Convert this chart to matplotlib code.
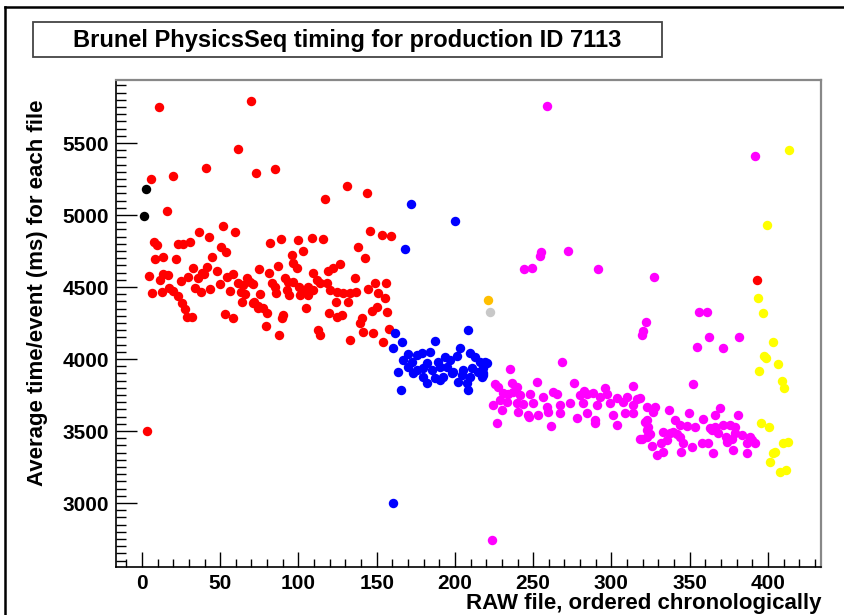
import matplotlib.pyplot as plt
from matplotlib.lines import Line2D
from matplotlib.patches import Rectangle
from matplotlib.ticker import MultipleLocator

plt.rcParams['font.family'] = ['Liberation Sans', 'DejaVu Sans']
plt.rcParams['font.weight'] = 'bold'

title = "Brunel PhysicsSeq timing for production ID 7113"
xlabel = "RAW file, ordered chronologically"
ylabel = "Average time/event (ms) for each file"

# values, one list pair per colour group
red_x = [10.9, 69.6, 61.3, 40.9, 72.8, 19.8, 5.8, 16.0, 36.4, 42.8,
         51.8, 59.4, 7.7, 9.6, 23.0, 26.2, 30.7, 50.5, 53.7, 8.3,
         13.4, 21.7, 44.7, 4.5, 13.4, 16.6, 11.5, 32.6, 41.5, 38.3,
         47.9, 24.9, 29.4, 35.8, 39.6, 54.3, 58.1, 49.8, 43.5, 33.9,
         37.7, 6.4, 12.8, 17.3, 19.8, 23.0, 25.6, 27.5, 28.8, 31.9,
         56.2, 61.3, 67.1, 64.5, 63.3, 65.8, 63.9, 70.9, 74.1, 53.0,
         58.1, 85.0, 131.0, 143.8, 116.9, 81.8, 88.8, 99.7, 108.6, 115.7,
         145.7, 153.4, 159.1, 95.8, 102.9, 138.0, 142.5, 86.9, 74.8, 96.5,
         99.0, 81.2, 69.0, 70.9, 83.1, 85.0, 91.4, 93.3, 96.5, 109.3,
         111.8, 113.7, 118.2, 118.8, 122.0, 126.5, 100.3, 102.9, 106.1, 109.3,
         92.7, 93.9, 75.4, 85.6, 101.0, 106.1, 120.1, 124.6, 128.4, 132.9,
         136.7, 136.1, 144.4, 148.9, 155.9, 150.8, 155.3, 71.6, 74.1, 77.3,
         79.9, 124.0, 131.6, 104.8, 90.1, 89.5, 119.5, 124.6, 127.8, 140.6,
         139.3, 147.0, 150.2, 156.5, 79.2, 112.5, 113.7, 87.5, 141.2, 147.6,
         132.9, 154.0, 157.8, 3.2, 393.0]
red_y = [5750, 5792, 5458, 5326, 5292, 5271, 5250, 5028, 4882, 4847,
         4924, 4882, 4813, 4792, 4799, 4799, 4813, 4778, 4743, 4694,
         4708, 4694, 4708, 4576, 4590, 4583, 4549, 4632, 4639, 4597,
         4611, 4542, 4569, 4563, 4590, 4569, 4590, 4521, 4486, 4493,
         4465, 4458, 4465, 4493, 4472, 4438, 4389, 4347, 4292, 4292,
         4472, 4528, 4563, 4514, 4465, 4451, 4396, 4389, 4354, 4313,
         4285, 5319, 5201, 5153, 5111, 4806, 4833, 4826, 4840, 4833,
         4889, 4861, 4854, 4722, 4750, 4778, 4701, 4646, 4625, 4667,
         4632, 4597, 4535, 4521, 4528, 4500, 4563, 4535, 4535, 4597,
         4549, 4528, 4528, 4611, 4632, 4660, 4500, 4479, 4500, 4479,
         4479, 4444, 4451, 4458, 4444, 4444, 4479, 4465, 4458, 4458,
         4465, 4563, 4486, 4528, 4528, 4458, 4424, 4396, 4368, 4354,
         4319, 4396, 4396, 4354, 4306, 4285, 4319, 4292, 4306, 4285,
         4250, 4333, 4361, 4326, 4229, 4201, 4167, 4167, 4188, 4181,
         4132, 4118, 4208, 3500, 4549]

blue_x = [171.9, 200.0, 168.1, 208.3, 187.2, 161.7, 166.1, 160.4, 170.0, 175.7,
          178.9, 184.0, 193.6, 203.2, 209.6, 166.8, 172.5, 182.1, 189.1, 196.8,
          201.3, 212.8, 216.0, 220.4, 170.0, 175.7, 179.6, 185.3, 190.4, 194.9,
          198.7, 205.1, 210.9, 214.7, 217.9, 163.6, 173.2, 179.6, 187.2, 192.3,
          198.1, 204.5, 209.6, 217.3, 182.1, 190.4, 201.9, 207.7, 208.3, 165.5,
          219.2, 217.9, 217.9, 160.4]
blue_y = [5076, 4958, 4764, 4201, 4125, 4181, 4118, 4076, 4035, 4028,
          4042, 4049, 4014, 4076, 4042, 3993, 3979, 3972, 3979, 3993,
          4021, 4014, 3979, 3972, 3944, 3924, 3938, 3924, 3944, 3944,
          3910, 3924, 3938, 3910, 3903, 3910, 3903, 3875, 3868, 3875,
          3903, 3889, 3875, 3875, 3833, 3854, 3840, 3833, 3785, 3785,
          3979, 3938, 3889, 3000]

mag_x = [258.8, 255.0, 254.3, 272.2, 244.1, 249.2, 291.4, 327.2, 391.7, 322.0,
         320.1, 319.5, 268.4, 235.1, 355.9, 361.0, 362.3, 381.5, 354.6, 371.2,
         352.1, 223.6,
         225.6, 227.5, 236.4, 239.6, 252.4, 276.0, 282.4, 295.8, 313.7,
         230.7, 233.9, 237.1, 241.5, 247.9, 256.2, 262.6, 265.2, 279.9, 284.3,
         288.2, 292.7, 297.1, 303.5, 309.9, 316.3,
         228.8, 233.2, 239.6, 243.5, 249.8, 258.8, 267.1, 273.5, 281.8, 290.7,
         299.0, 307.3, 313.7, 322.7,
         224.3, 230.0, 240.3, 246.6, 253.0, 259.4, 267.1, 278.0, 284.3, 289.5,
         301.0, 308.6, 313.7, 322.7,
         226.8, 261.3, 247.3, 289.5, 303.5, 318.2, 322.7,
         318.2, 327.8, 326.5, 336.7, 349.5, 358.5, 366.1, 369.3, 380.8,
         321.4, 323.3, 324.6, 340.6, 343.8, 348.2, 353.4, 363.0, 366.1, 371.2,
         375.7, 378.9,
         332.9, 337.4, 339.3, 341.9, 343.8, 364.2, 368.1, 373.2, 378.9, 383.4,
         388.5, 389.8,
         319.5, 322.7, 325.9, 331.6, 335.5, 345.7, 351.4, 357.8, 361.7, 373.8,
         377.0, 386.6, 391.7,
         329.1, 332.9, 344.4, 364.9, 377.6, 386.6]
mag_y = [5757, 4743, 4715, 4750, 4625, 4632, 4625, 4569, 5410, 4257,
         4194, 4167, 3979, 3931, 4326, 4326, 4153, 4153, 4083, 4076,
         3826, 2743,
         3826, 3806, 3833, 3806, 3840, 3833, 3778, 3799, 3813,
         3764, 3757, 3771, 3750, 3757, 3736, 3771, 3757, 3750, 3757,
         3764, 3736, 3757, 3729, 3736, 3722,
         3715, 3701, 3694, 3688, 3694, 3667, 3681, 3694, 3694, 3681,
         3694, 3701, 3681, 3667,
         3681, 3646, 3632, 3611, 3611, 3632, 3625, 3590, 3625, 3576,
         3611, 3625, 3625, 3576,
         3556, 3535, 3597, 3556, 3542, 3444, 3507,
         3729, 3667, 3632, 3646, 3625, 3583, 3611, 3660, 3611,
         3563, 3528, 3479, 3576, 3542, 3535, 3528, 3521, 3528, 3542,
         3542, 3528,
         3493, 3486, 3493, 3479, 3458, 3507, 3486, 3458, 3486, 3472,
         3458, 3438,
         3444, 3458, 3396, 3417, 3438, 3417, 3389, 3417, 3417, 3424,
         3444, 3417, 3417,
         3333, 3354, 3354, 3347, 3368, 3347]

yel_x = [413.4, 399.4, 393.6, 396.8, 403.2, 397.4, 398.7, 406.4, 394.2, 408.9,
         410.2, 395.5, 400.6, 409.6, 412.8, 404.5, 403.2, 401.3, 407.7, 411.5]
yel_y = [5451, 4931, 4424, 4319, 4118, 4021, 4007, 3965, 3917, 3847,
         3799, 3556, 3528, 3417, 3424, 3354, 3347, 3285, 3215, 3229]

black_x = [2.5, 1.3]
black_y = [5180, 4993]
orange_x = [221.4]
orange_y = [4410]
grey_x = [222.7]
grey_y = [4326]

groups = [
    (red_x, red_y, '#ff0000'),
    (blue_x, blue_y, '#0000ff'),
    (mag_x, mag_y, '#ff00ff'),
    (yel_x, yel_y, '#ffff00'),
    (black_x, black_y, '#000000'),
    (orange_x, orange_y, '#ffbf00'),
    (grey_x, grey_y, '#c8c8c8'),
]

fig = plt.figure(figsize=(8.44, 6.15), dpi=100)
ax = fig.add_axes([0.1374, 0.078, 0.8353, 0.7927])

for xs, ys, c in groups:
    ax.plot(xs, ys, 'o', ms=6.8, mew=0, color=c)

ax.set_xlim(-16.6, 433.9)
ax.set_ylim(2556, 5941)
ax.xaxis.set_major_locator(MultipleLocator(50))
ax.xaxis.set_minor_locator(MultipleLocator(10))
ax.yaxis.set_major_locator(MultipleLocator(500))
ax.yaxis.set_minor_locator(MultipleLocator(50))

ax.tick_params(axis='y', which='major', direction='in', length=15, width=1, labelsize=15, pad=5)
ax.tick_params(axis='y', which='minor', direction='in', length=7.5, width=1)
ax.tick_params(axis='x', which='major', direction='in', length=11, width=1, labelsize=15, pad=5)
ax.tick_params(axis='x', which='minor', direction='in', length=5.5, width=1)

for s in ['left', 'bottom']:
    ax.spines[s].set_color('black')
    ax.spines[s].set_linewidth(1.2)
for s in ['top', 'right']:
    ax.spines[s].set_color('#888888')
    ax.spines[s].set_linewidth(1.6)

fig.text(38 / 844, 1 - 100 / 615, ylabel, rotation=90, ha='center', va='top', fontsize=16)
fig.text(822 / 844, 1 - 603 / 615, xlabel, ha='right', va='center', fontsize=16)

# title box
fig.patches.append(Rectangle((33 / 844, 1 - 57 / 615), 629 / 844, 35 / 615,
                             transform=fig.transFigure, facecolor='white',
                             edgecolor='#444444', lw=1.3))
fig.text(347 / 844, 1 - 40 / 615, title, ha='center', va='center', fontsize=17)

# canvas frame
fig.lines.append(Line2D([5 / 844, 1], [1 - 7 / 615, 1 - 7 / 615], transform=fig.transFigure, color='black', lw=1.8))
fig.lines.append(Line2D([5 / 844, 5 / 844], [0, 1 - 7 / 615], transform=fig.transFigure, color='black', lw=1.8))

fig.savefig('out.png', dpi=100)
